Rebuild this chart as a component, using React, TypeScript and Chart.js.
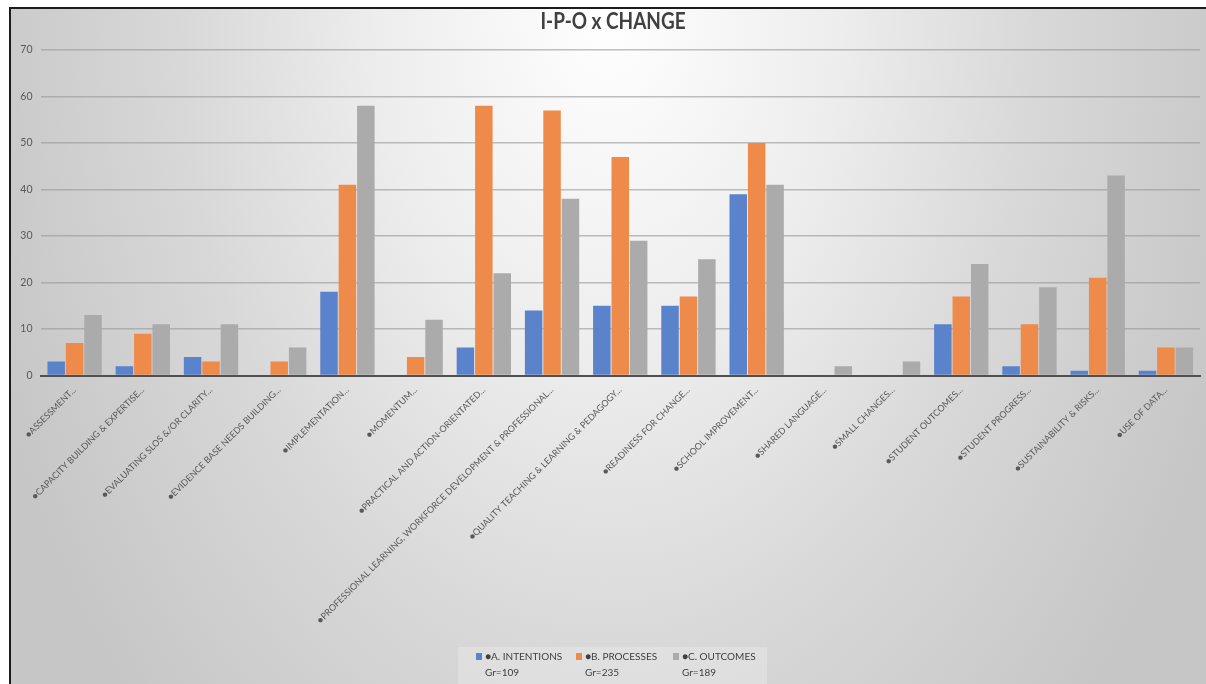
import React, { useEffect, useRef } from "react";
import { Chart, registerables } from "chart.js";

Chart.register(...registerables);

const categories = [
  "●ASSESSMENT...",
  "●CAPACITY BUILDING & EXPERTISE...",
  "●EVALUATING SLOS &/OR CLARITY...",
  "●EVIDENCE BASE NEEDS BUILDING...",
  "●IMPLEMENTATION...",
  "●MOMENTUM...",
  "●PRACTICAL AND ACTION-ORIENTATED...",
  "●PROFESSIONAL LEARNING, WORKFORCE DEVELOPMENT & PROFESSIONAL...",
  "●QUALITY TEACHING & LEARNING & PEDAGOGY...",
  "●READINESS FOR CHANGE...",
  "●SCHOOL IMPROVEMENT...",
  "●SHARED LANGUAGE...",
  "●SMALL CHANGES...",
  "●STUDENT OUTCOMES...",
  "●STUDENT PROGRESS...",
  "●SUSTAINABILITY & RISKS...",
  "●USE OF DATA...",
];

const intentions = [3, 2, 4, 0, 18, 0, 6, 14, 15, 15, 39, 0, 0, 11, 2, 1, 1];
const processes = [7, 9, 3, 3, 41, 4, 58, 57, 47, 17, 50, 0, 0, 17, 11, 21, 6];
const outcomes = [13, 11, 11, 6, 58, 12, 22, 38, 29, 25, 41, 2, 3, 24, 19, 43, 6];

const seriesNames = ["●A. INTENTIONS", "●B. PROCESSES", "●C. OUTCOMES"];
const seriesCounts = ["Gr=109", "Gr=235", "Gr=189"];
const seriesColors = ["#5a83cb", "#ee8a4a", "#ababab"];

const yMin = 0;
const yMax = 70;
const yStep = 10;

const chartTitle = "I-P-O x CHANGE";

const FONT = "Lato, 'Open Sans', sans-serif";

const titlePlugin = {
  id: "customTitle",
  afterDraw(chart: any) {
    const ctx = chart.ctx as CanvasRenderingContext2D;
    ctx.save();
    ctx.translate(602, 13);
    ctx.scale(0.86, 1);
    ctx.font = `bold 22px ${FONT}`;
    ctx.fillStyle = "#404040";
    ctx.textAlign = "center";
    ctx.textBaseline = "middle";
    ctx.fillText(chartTitle, 0, 0);
    ctx.restore();
  },
};

const legendPlugin = {
  id: "customLegend",
  afterDraw(chart: any) {
    const ctx = chart.ctx as CanvasRenderingContext2D;
    ctx.save();
    ctx.fillStyle = "rgba(255,255,255,0.22)";
    ctx.fillRect(447, 638, 309, 40);
    const markerX = [465, 565, 662];
    ctx.font = `10px ${FONT}`;
    ctx.textBaseline = "middle";
    ctx.textAlign = "left";
    chart.data.datasets.forEach((ds: any, i: number) => {
      ctx.fillStyle = ds.backgroundColor;
      ctx.fillRect(markerX[i], 644, 6, 7);
      ctx.fillStyle = "#404040";
      ctx.fillText(ds.label, markerX[i] + 9, 647.5);
      ctx.fillText(seriesCounts[i], markerX[i] + 9, 663.5);
    });
    ctx.restore();
  },
};

export default function App() {
  const canvasRef = useRef<HTMLCanvasElement | null>(null);

  useEffect(() => {
    if (!canvasRef.current) return;
    const chart = new Chart(canvasRef.current, {
      type: "bar",
      data: {
        labels: categories,
        datasets: [
          { label: seriesNames[0], data: intentions, backgroundColor: seriesColors[0] },
          { label: seriesNames[1], data: processes, backgroundColor: seriesColors[1] },
          { label: seriesNames[2], data: outcomes, backgroundColor: seriesColors[2] },
        ],
      },
      options: {
        responsive: false,
        animation: false,
        devicePixelRatio: 1,
        layout: { padding: { left: 0, right: 6, top: 41, bottom: 0 } },
        datasets: {
          bar: { categoryPercentage: 0.81, barPercentage: 0.95, borderWidth: 0 },
        },
        plugins: {
          legend: { display: false },
          tooltip: { enabled: false },
          title: { display: false },
        },
        scales: {
          x: {
            grid: { display: false, drawTicks: false },
            border: { display: true, color: "#505050", width: 2 },
            ticks: {
              autoSkip: false,
              maxRotation: 45,
              minRotation: 45,
              color: "#595959",
              font: { family: FONT, size: 9 },
              padding: 9,
            },
            afterFit: (scale: any) => {
              scale.height = 308.5;
            },
          },
          y: {
            min: yMin,
            max: yMax,
            grid: { color: "rgba(150,150,150,0.6)", lineWidth: 1.5, drawTicks: false },
            border: { display: false },
            ticks: {
              stepSize: yStep,
              color: "#595959",
              font: { family: FONT, size: 10.5 },
              padding: 8,
            },
            afterFit: (scale: any) => {
              scale.width = 29.5;
            },
          },
        },
      },
      plugins: [titlePlugin, legendPlugin],
    });
    return () => chart.destroy();
  }, []);

  return (
    <div
      style={{
        position: "absolute",
        left: 9,
        top: 7,
        width: 1197,
        height: 677,
        boxSizing: "border-box",
        borderLeft: "2px solid #1c1c1c",
        borderTop: "2px solid #1c1c1c",
        background:
          "radial-gradient(ellipse 660px 1000px at 50% 0%, #ffffff 0%, #ededed 35%, #d8d8d8 65%, #c6c6c6 100%)",
        overflow: "hidden",
      }}
    >
      <canvas ref={canvasRef} width={1195} height={675} style={{ display: "block" }} />
    </div>
  );
}
